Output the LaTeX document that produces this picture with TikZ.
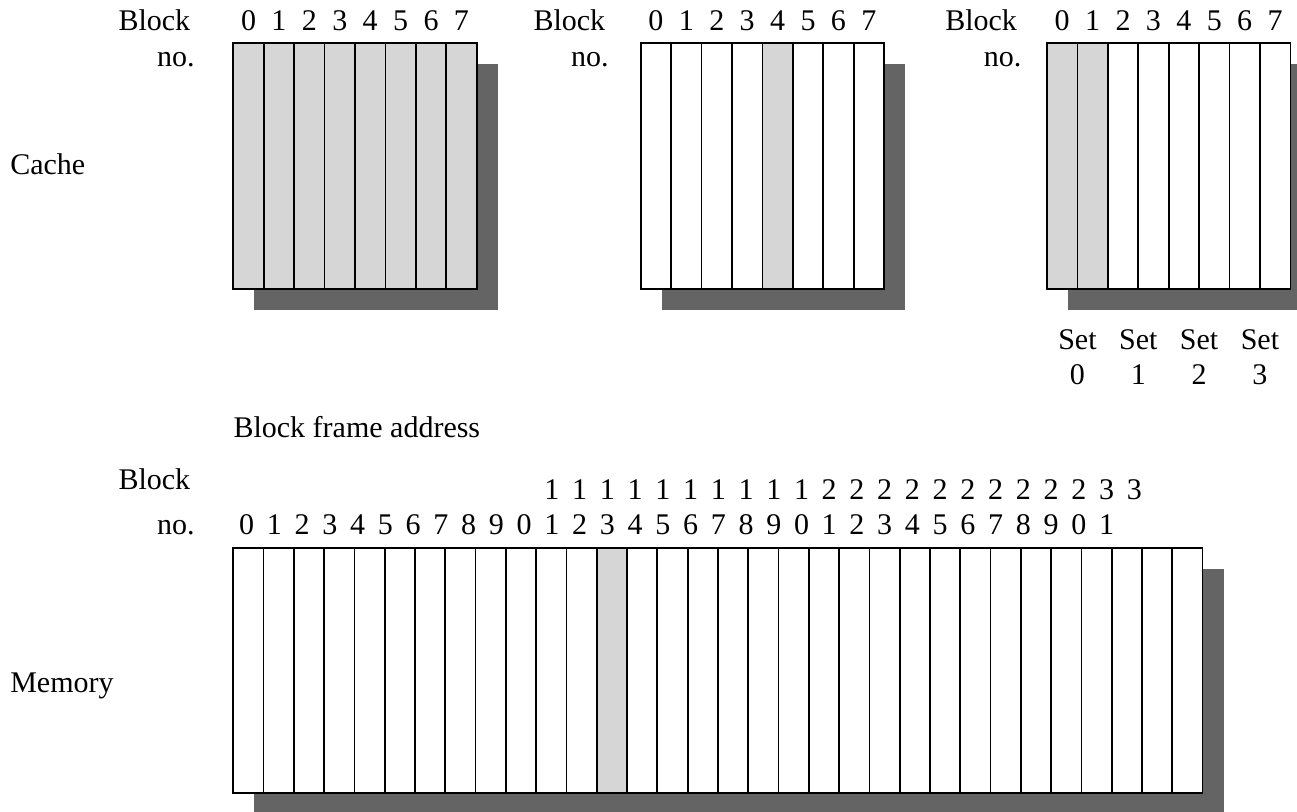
\documentclass[tikz,border=0pt]{standalone}
\usepackage{fontspec}
\setmainfont{Liberation Serif}
\definecolor{cellgray}{RGB}{214,214,214}
\definecolor{shadowgray}{RGB}{100,100,100}
\tikzset{
  lbl/.style={inner sep=0pt, anchor=base, font=\fontsize{22.5}{27}\selectfont},
  lblL/.style={lbl, anchor=base west},
  lblR/.style={lbl, anchor=base east},
  cellline/.style={draw=black, line width=1.3pt},
}
\newcommand{\drawcells}[6]{%
  \fill[shadowgray] ({#1+21},{#2+21}) rectangle ++({#3*#4},#5);
  \fill[white] (#1,#2) rectangle ++({#3*#4},#5);
  \foreach \k in {#6} {\fill[cellgray] ({#1+\k*#4},#2) rectangle ++(#4,#5);}
  \pgfmathtruncatemacro{\lastk}{#3-1}
  \foreach \k in {1,...,\lastk} {\draw[cellline] ({#1+\k*#4},#2) -- ++(0,#5);}
  \draw[cellline] (#1,#2) rectangle ++({#3*#4},#5);
}
\begin{document}
\begin{tikzpicture}[x=0.75pt,y=-0.75pt]
\useasboundingbox (0,0) rectangle (1297,812);
\clip (0,0) rectangle (1297,812);

% ---- cache arrays
\drawcells{233.3}{43.3}{8}{30.42}{245.4}{0,...,7}
\drawcells{640.7}{43.3}{8}{30.42}{245.4}{4}
\drawcells{1047}{43.3}{8}{30.42}{245.4}{0,1}

% ---- cache labels
\node[lblL] (cachelbl) at (10,175) {Cache};
\node[lblL] (blk1) at (118.3,30.7) {Block};
\node[lblR] (no1) at (195,66.7) {no.};
\node[lblL] (blk2) at (533.3,30.7) {Block};
\node[lblR] (no2) at (609,66.7) {no.};
\node[lblL] (blk3) at (945,30.7) {Block};
\node[lblR] (no3) at (1021.7,66.7) {no.};
\foreach \i in {0,...,7} {
  \node[lbl] (ca\i) at ({233.3+(\i+0.5)*30.42},30.7) {\i};
  \node[lbl] (cb\i) at ({640.7+(\i+0.5)*30.42},30.7) {\i};
  \node[lbl] (cc\i) at ({1047+(\i+0.5)*30.42},30.7) {\i};
}
\foreach \k in {0,...,3} {
  \node[lbl] (set\k) at ({1047+(2*\k+1)*30.42},350) {Set};
  \node[lbl] (setn\k) at ({1047+(2*\k+1)*30.42},385) {\k};
}

% ---- memory
\node[lblL] (bfa) at (233.3,438) {Block frame address};
\node[lblL] (blkm) at (118.3,490) {Block};
\node[lblR] (nom) at (195,535) {no.};
\foreach \i in {0,...,31} {
  \pgfmathtruncatemacro{\u}{mod(\i,10)}
  \node[lbl] (mu\i) at ({246.7+\i*27.74},535) {\u};
}
\foreach \i in {11,...,32} {
  \pgfmathtruncatemacro{\t}{(\i-1)/10}
  \node[lbl] (mt\i) at ({246.7+\i*27.74},500) {\t};
}
\drawcells{233.3}{548.3}{32}{30.29}{245}{12}
\node[lblL] (memlbl) at (10,693) {Memory};
\end{tikzpicture}
\end{document}
